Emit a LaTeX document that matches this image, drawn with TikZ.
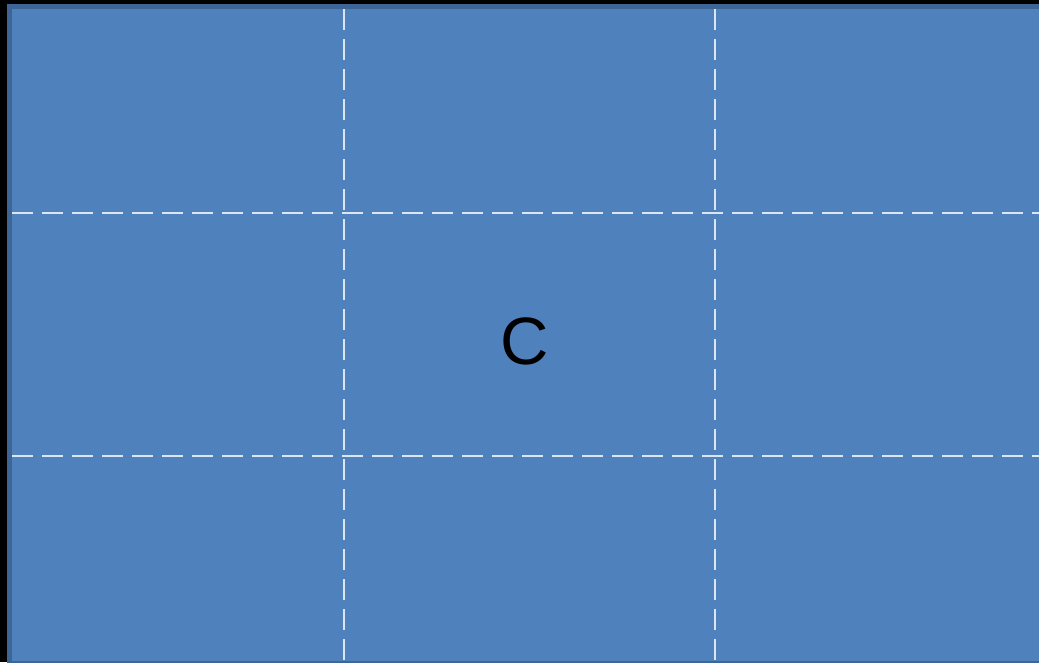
\documentclass[tikz,border=0pt]{standalone}
\usepackage{fontspec}
\setmainfont{Liberation Sans}
\definecolor{fillblue}{HTML}{4F81BD}
\definecolor{edgeblue}{HTML}{3D6596}
\definecolor{gridline}{HTML}{DCE6F2}
\tikzset{
  gridstyle/.style={draw=gridline, line width=2.4pt, dash pattern=on 21pt off 9pt},
  panel/.style={fill=fillblue, draw=edgeblue, line width=5pt}
}
\begin{document}
\begin{tikzpicture}[x=1pt,y=-1pt]
\useasboundingbox (0,0) rectangle (1039,662);
\fill[black] (0,0) rectangle (1039,662);
\clip (0,0) rectangle (1039,662);
\draw[panel] (9.5,6.5) rectangle (1050,663);
\coordinate (v1t) at (344,9); \coordinate (v1b) at (344,662);
\coordinate (v2t) at (715,9); \coordinate (v2b) at (715,662);
\coordinate (h1l) at (12,213); \coordinate (h1r) at (1039,213);
\coordinate (h2l) at (12,456); \coordinate (h2r) at (1039,456);
\draw[gridstyle] (v1t) -- (v1b);
\draw[gridstyle] (v2t) -- (v2b);
\draw[gridstyle] (h1l) -- (h1r);
\draw[gridstyle] (h2l) -- (h2r);
\node[font=\fontsize{67}{70}\selectfont, text=black, inner sep=0pt] (c) at (525,341) {C};
\end{tikzpicture}
\end{document}
